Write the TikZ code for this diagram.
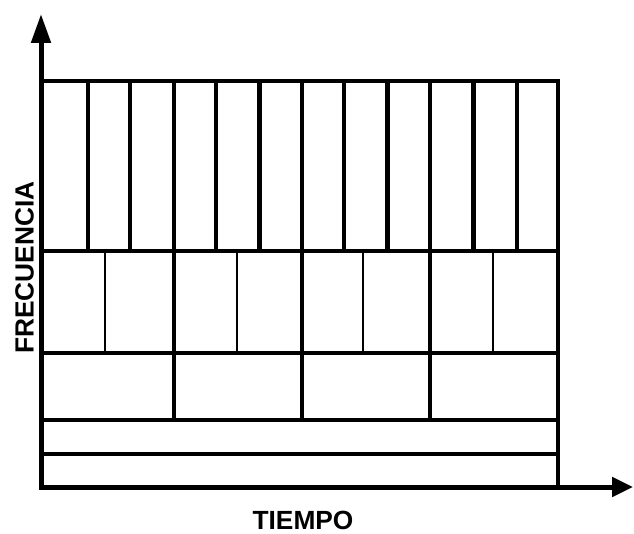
\documentclass[tikz,border=0pt]{standalone}
\usepackage{fontspec}
\setmainfont{Liberation Sans}
\usetikzlibrary{arrows.meta}
\begin{document}
\begin{tikzpicture}[x=1pt,y=-1pt,
  axisline/.style={line width=5pt},
  hthick/.style={line width=4.8pt},
  hmed/.style={line width=3.4pt},
  vthick/.style={line width=5pt},
  vmed/.style={line width=3.6pt},
  vthin/.style={line width=2pt},
  lbl/.style={font=\bfseries\fontsize{26.3}{30}\selectfont, inner sep=0pt}]
\useasboundingbox (0,0) rectangle (634,534);
% axes
\coordinate (ytip) at (41,14);
\coordinate (orig) at (41,487);
\coordinate (xtip) at (633,487);
\draw[axisline, arrows={Triangle[length=29pt,width=19pt]-Triangle[length=21pt,width=19pt]}]
  (ytip) -- (orig) -- (xtip);
% horizontal lines
\draw[hmed] (41,81) -- (560,81);
\draw[hthick] (41,251) -- (560,251);
\draw[hthick] (41,353) -- (560,353);
\draw[hmed] (41,420) -- (560,420);
\draw[hmed] (41,454) -- (560,454);
% right edge
\draw[vmed] (558,81) -- (558,487);
% top row verticals
\foreach \x in {88,130,174,216,302,344,430,517}
  \draw[vmed] (\x,81) -- (\x,251);
\foreach \x in {259,387,473}
  \draw[vthick] (\x,81) -- (\x,251);
% middle row verticals
\foreach \x in {105,237,363,493}
  \draw[vthin] (\x,251) -- (\x,353);
\foreach \x in {174,302,430}
  \draw[vmed] (\x,251) -- (\x,420);
% labels
\node[lbl, anchor=base] (tiempo) at (303,529) {TIEMPO};
\node[lbl, anchor=base, rotate=90] (frec) at (33.5,267.5) {FRECUENCIA};
\end{tikzpicture}
\end{document}
